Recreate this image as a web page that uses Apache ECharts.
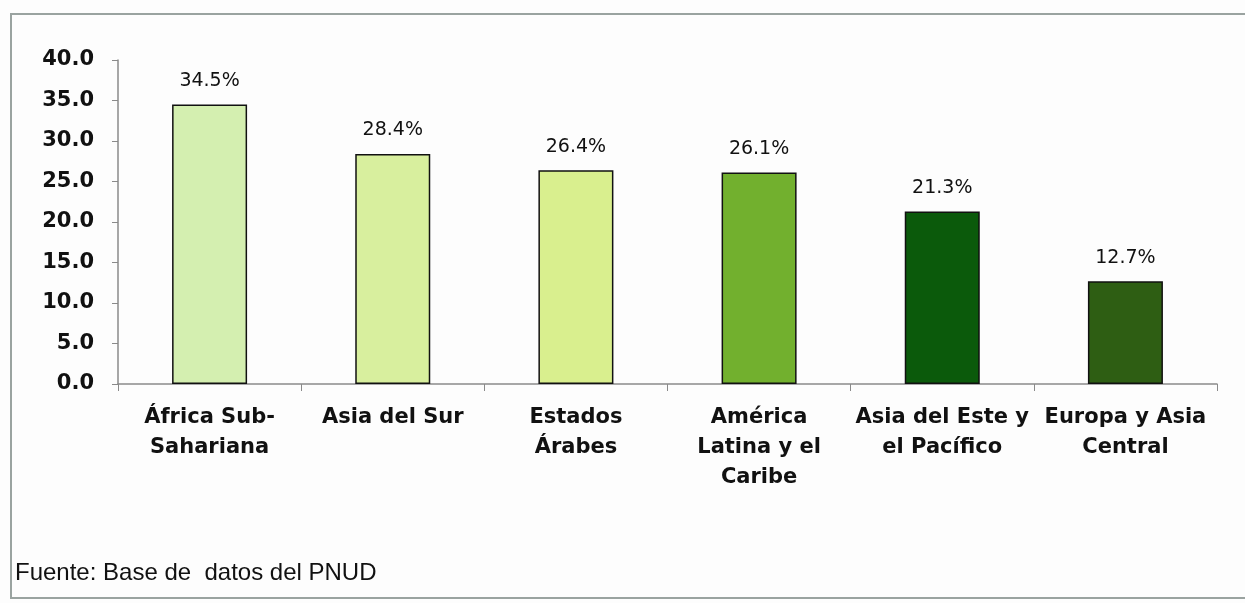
<!DOCTYPE html>
<html>
<head>
<meta charset="utf-8">
<script src="https://cdn.jsdelivr.net/npm/echarts@6/dist/echarts.min.js"></script>
<style>
  html, body { margin: 0; padding: 0; background: #fdfdfd; }
  #chart { width: 1245px; height: 603px; }
</style>
</head>
<body>
<div id="chart"></div>
<script>
// data
const regions = [
  "África Sub-\nSahariana",
  "Asia del Sur",
  "Estados\nÁrabes",
  "América\nLatina y el\nCaribe",
  "Asia del Este y\nel Pacífico",
  "Europa y Asia\nCentral"
];
const shares = [34.5, 28.4, 26.4, 26.1, 21.3, 12.7];
const barColors = ["#d4efb0", "#d8ef9e", "#d9ef8e", "#72b02e", "#0b5a0b", "#2e5e13"];
const yTicks = { min: 0, max: 40, interval: 5 };

const myChart = echarts.init(document.getElementById("chart"));
myChart.setOption({
  animation: false,
  backgroundColor: "#fdfdfd",
  textStyle: { fontFamily: "DejaVu Sans, sans-serif" },
  graphic: [
    {
      type: "rect",
      shape: { x: 11, y: 14, width: 1240, height: 584 },
      style: { fill: "none", stroke: "#9aa3a0", lineWidth: 2 }
    },
    {
      type: "text",
      left: 15,
      top: 561,
      style: {
        text: "Fuente: Base de  datos del PNUD",
        font: "24px Liberation Sans, Arial, sans-serif",
        fill: "#111"
      }
    }
  ],
  grid: { left: 118, right: 28, top: 60, bottom: 219 },
  xAxis: {
    type: "category",
    data: regions,
    axisLine: { lineStyle: { color: "#8a8a8a", width: 1.5 } },
    axisTick: { show: true, length: 7, alignWithLabel: false, lineStyle: { color: "#8a8a8a" } },
    axisLabel: {
      color: "#111",
      fontSize: 21,
      fontWeight: "bold",
      fontFamily: "DejaVu Sans",
      lineHeight: 30,
      margin: 19,
      interval: 0
    }
  },
  yAxis: {
    type: "value",
    min: yTicks.min,
    max: yTicks.max,
    interval: yTicks.interval,
    splitLine: { show: false },
    axisLine: { show: true, lineStyle: { color: "#8a8a8a", width: 1.5 } },
    axisTick: { show: true, length: 6, lineStyle: { color: "#8a8a8a" } },
    axisLabel: {
      color: "#111",
      fontSize: 21,
      fontWeight: "bold",
      fontFamily: "DejaVu Sans",
      margin: 24,
      formatter: function (v) { return v.toFixed(1); }
    }
  },
  series: [
    {
      type: "bar",
      data: shares.map(function (v, i) {
        return { value: v, itemStyle: { color: barColors[i] } };
      }),
      barWidth: 75,
      itemStyle: { borderColor: "#111", borderWidth: 1.5 },
      label: {
        show: true,
        position: "top",
        distance: 14,
        color: "#111",
        fontSize: 19,
        fontFamily: "DejaVu Sans",
        formatter: function (p) { return p.value.toFixed(1) + "%"; }
      }
    }
  ]
});
</script>
</body>
</html>
